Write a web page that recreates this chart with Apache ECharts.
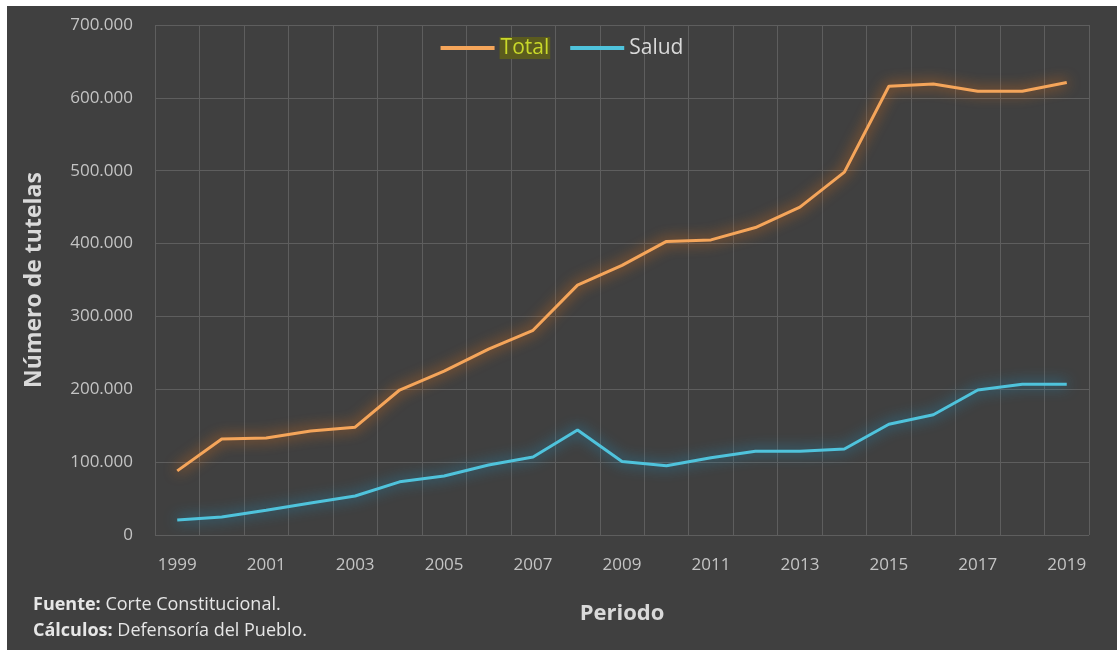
<!DOCTYPE html>
<html>
<head>
<meta charset="utf-8">
<script src="https://cdn.jsdelivr.net/npm/echarts@6/dist/echarts.min.js"></script>
<style>
html,body{margin:0;padding:0;background:#ffffff;width:1117px;height:650px;overflow:hidden;}
#c{position:absolute;left:7px;top:6px;width:1110px;height:644px;background:#404040;}
#note{position:absolute;left:33px;top:590px;color:#e6e6e6;font-family:"Open Sans",sans-serif;font-size:18px;line-height:26px;white-space:nowrap;}
#note b{font-weight:700;}
</style>
</head>
<body>
<div id="c"></div>
<div id="note"><b>Fuente:</b> Corte Constitucional.<br><b>Cálculos:</b> Defensoría del Pueblo.</div>
<script>
const years = ['1999','2000','2001','2002','2003','2004','2005','2006','2007','2008','2009','2010','2011','2012','2013','2014','2015','2016','2017','2018','2019'];
const total = [88000,131700,133000,142700,148000,199000,225000,255000,281000,343000,370000,403000,405000,422000,450000,498000,616000,619000,609000,609000,621000];
const salud = [20600,24700,34000,44000,53500,73000,81000,96000,107000,144000,101000,95000,106000,115000,115000,118000,152000,165000,199000,207000,207000];

const chart = echarts.init(document.getElementById('c'));
const fmt = v => v === 0 ? '0' : String(v).replace(/\B(?=(\d{3})+(?!\d))/g, '.');
chart.setOption({
  backgroundColor: '#404040',
  animation: false,
  textStyle: {fontFamily: '"Open Sans", sans-serif'},
  grid: {left: 148, right: 28, top: 19, bottom: 115},
  legend: {
    top: 26, left: 'center', itemWidth: 54, itemHeight: 4, itemGap: 20, icon: 'rect',
    data: ['Total','Salud'],
    formatter: n => n === 'Total' ? '{h|Total}' : '{n|Salud}',
    textStyle: {
      rich: {
        h: {color: '#c9d82a', backgroundColor: '#5b5b1e', fontSize: 21, padding: [1,1,0,1], fontFamily: '"Open Sans", sans-serif'},
        n: {color: '#d9d9d9', fontSize: 21, fontFamily: '"Open Sans", sans-serif'}
      }
    }
  },
  xAxis: {
    type: 'category', data: years, boundaryGap: true,
    name: 'Periodo', nameLocation: 'middle', nameGap: 68,
    nameTextStyle: {color: '#d9d9d9', fontSize: 22, fontWeight: 'bold'},
    axisLine: {show: false}, axisTick: {show: false},
    axisLabel: {color: '#c4c4c4', fontSize: 17, interval: 1, margin: 22},
    splitLine: {show: true, interval: 0, lineStyle: {color: '#5e5e5e', width: 1}}
  },
  yAxis: {
    type: 'value', min: 0, max: 700000, interval: 100000,
    name: 'Número de tutelas', nameLocation: 'middle', nameGap: 109,
    nameTextStyle: {color: '#d9d9d9', fontSize: 23, fontWeight: 'bold'},
    axisLine: {show: false}, axisTick: {show: false},
    axisLabel: {color: '#c4c4c4', fontSize: 17, margin: 22, formatter: fmt},
    splitLine: {lineStyle: {color: '#5e5e5e', width: 1}}
  },
  series: [
    {name: 'Total', type: 'line', data: total, symbol: 'none',
     itemStyle: {color: '#f5a55a'},
     lineStyle: {color: '#f5a55a', width: 3, shadowColor: 'rgba(245,120,20,1)', shadowBlur: 14}},
    {name: 'Salud', type: 'line', data: salud, symbol: 'none',
     itemStyle: {color: '#4fc3dc'},
     lineStyle: {color: '#4fc3dc', width: 3, shadowColor: 'rgba(30,150,200,1)', shadowBlur: 14}}
  ]
});
</script>
</body>
</html>
